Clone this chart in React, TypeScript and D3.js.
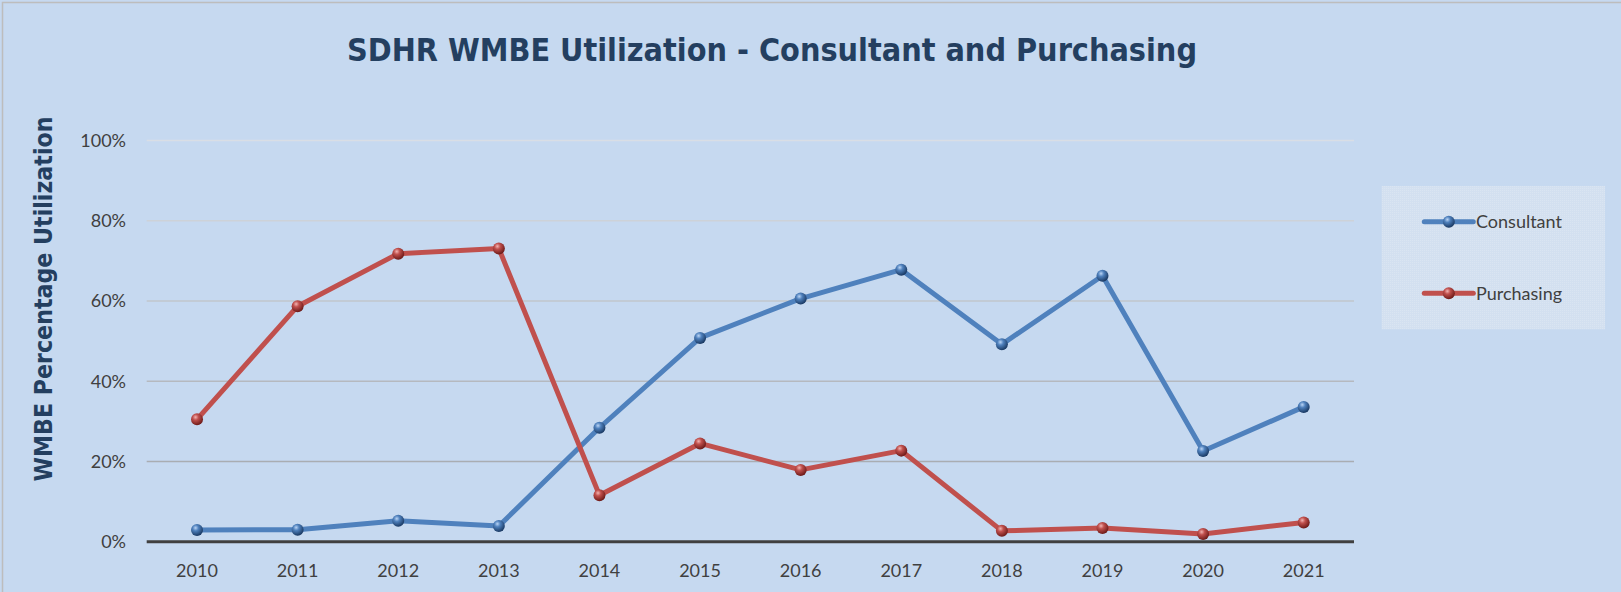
import React from "react";
import * as d3 from "d3";

const years = ["2010","2011","2012","2013","2014","2015","2016","2017","2018","2019","2020","2021"];
const consultant = [0.029, 0.030, 0.052, 0.039, 0.284, 0.508, 0.606, 0.678, 0.492, 0.663, 0.226, 0.336];
const purchasing = [0.305, 0.587, 0.718, 0.731, 0.116, 0.245, 0.179, 0.227, 0.027, 0.034, 0.019, 0.048];
const yTicks = [0, 0.2, 0.4, 0.6, 0.8, 1.0];
const seriesNames = ["Consultant", "Purchasing"];

const W = 1621, H = 592;
const LEFT = 146.7, RIGHT = 1354, TOP = 140.5, BOTTOM = 541.7;

const series = [
  { name: seriesNames[0], values: consultant, color: "#4f81bd", grad: "gBlue" },
  { name: seriesNames[1], values: purchasing, color: "#c0504d", grad: "gRed" },
];

export default function App() {
  const x = d3.scaleBand<string>().domain(years).range([LEFT, RIGHT]).padding(0);
  const y = d3.scaleLinear().domain([0, 1]).range([BOTTOM, TOP]);
  const cx = (yr: string) => (x(yr) as number) + x.bandwidth() / 2;
  const line = d3.line<number>().x((_, i) => cx(years[i])).y((v) => y(v));
  const gridColor = d3.scaleLinear<string>().domain([0.2, 1.0]).range(["#a9adb2", "#d9dee5"]);
  const fmt = d3.format(".0%");
  const labelFont = "Lato, 'Open Sans', sans-serif";
  const boldFont = "'DejaVu Sans Condensed', 'DejaVu Sans', sans-serif";

  return (
    <svg width={W} height={H} style={{ position: "absolute", left: 0, top: 0, display: "block" }}>
      <defs>
        <radialGradient id="gBlue" cx="38%" cy="32%" r="70%">
          <stop offset="0%" stopColor="#b9d4f5" />
          <stop offset="35%" stopColor="#4f81bd" />
          <stop offset="100%" stopColor="#17365f" />
        </radialGradient>
        <radialGradient id="gRed" cx="38%" cy="32%" r="70%">
          <stop offset="0%" stopColor="#f2b3b1" />
          <stop offset="35%" stopColor="#c0504d" />
          <stop offset="100%" stopColor="#6a1816" />
        </radialGradient>
        <pattern id="dither" width="2" height="2" patternUnits="userSpaceOnUse">
          <rect width="2" height="2" fill="#d3e0f0" />
          <rect width="1" height="1" fill="#dae5f2" />
        </pattern>
      </defs>
      <rect x={0} y={0} width={W} height={H} fill="#c6d9f0" />
      <rect x={2.5} y={2.5} width={W + 10} height={H + 10} fill="none" stroke="#bdbdbd" strokeWidth={1.5} />

      <text x={772} y={60.7} textAnchor="middle" fontFamily={boldFont} fontWeight="bold" fontSize={32}
        fill="#243f60" textLength={850} lengthAdjust="spacingAndGlyphs">
        SDHR WMBE Utilization - Consultant and Purchasing
      </text>

      <text transform="translate(52,299) rotate(-90)" textAnchor="middle" fontFamily={boldFont} fontWeight="bold"
        fontSize={25} fill="#243f60" textLength={365} lengthAdjust="spacingAndGlyphs">
        WMBE Percentage Utilization
      </text>

      {yTicks.filter((t) => t > 0).map((t) => (
        <line key={t} x1={LEFT} x2={RIGHT} y1={y(t)} y2={y(t)} stroke={gridColor(t)} strokeWidth={1.5} />
      ))}
      <line x1={LEFT} x2={RIGHT} y1={y(0)} y2={y(0)} stroke="#404040" strokeWidth={3} />

      {yTicks.map((t) => (
        <text key={t} x={126} y={y(t)} dy="0.35em" textAnchor="end" fontFamily={labelFont} fontSize={18} fill="#404040">
          {fmt(t)}
        </text>
      ))}
      {years.map((yr) => (
        <text key={yr} x={cx(yr)} y={577} textAnchor="middle" fontFamily={labelFont} fontSize={18} fill="#404040">
          {yr}
        </text>
      ))}

      {series.map((s) => (
        <g key={s.name}>
          <path d={line(s.values) as string} fill="none" stroke={s.color} strokeWidth={5} strokeLinejoin="round" />
          {s.values.map((v, i) => (
            <circle key={i} cx={cx(years[i])} cy={y(v)} r={6} fill={`url(#${s.grad})`} />
          ))}
        </g>
      ))}

      <rect x={1381.7} y={186} width={223.3} height={143.3} fill="url(#dither)" />
      {series.map((s, i) => {
        const ly = i === 0 ? 221.7 : 293.3;
        return (
          <g key={s.name}>
            <line x1={1424.3} x2={1473.3} y1={ly} y2={ly} stroke={s.color} strokeWidth={5} strokeLinecap="round" />
            <circle cx={1448.8} cy={ly} r={6} fill={`url(#${s.grad})`} />
            <text x={1476} y={ly} dy="0.35em" fontFamily={labelFont} fontSize={18} fill="#404040">{s.name}</text>
          </g>
        );
      })}
    </svg>
  );
}
